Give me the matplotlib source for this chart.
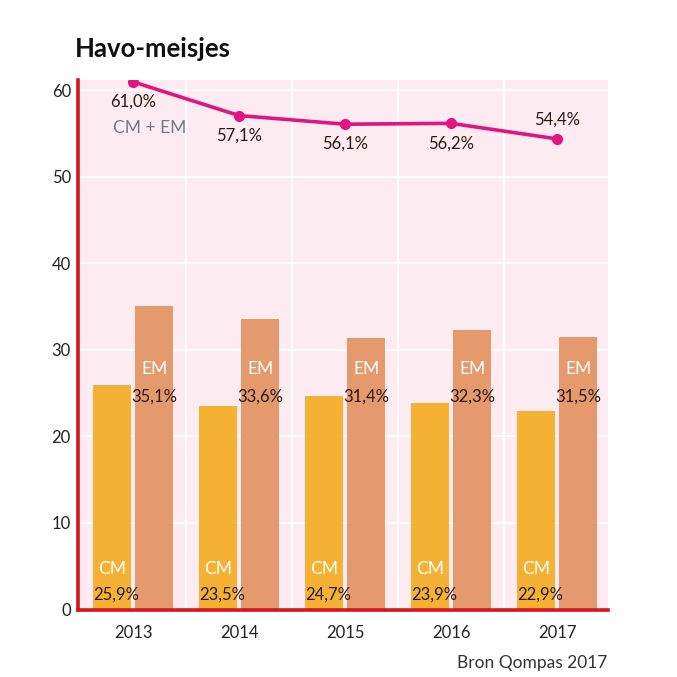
import matplotlib.pyplot as plt
import numpy as np

plt.rcParams['font.family'] = ['Lato', 'DejaVu Sans']

# data
years = ['2013', '2014', '2015', '2016', '2017']
cm = [25.9, 23.5, 24.7, 23.9, 22.9]
em = [35.1, 33.6, 31.4, 32.3, 31.5]
total = [61.0, 57.1, 56.1, 56.2, 54.4]

pink_bg = '#fcebf1'
red = '#d8141e'
magenta = '#e0157f'
cm_col = '#f5b133'
em_col = '#e49a6c'

fig = plt.figure(figsize=(6.77, 6.77), dpi=100)
ax = fig.add_axes([0.115, 0.0997, 0.783, 0.782])
ax.set_facecolor(pink_bg)

x = np.arange(len(years))
w = 0.36
off = 0.2

ax.bar(x - off, cm, w, color=cm_col, zorder=2)
ax.bar(x + off, em, w, color=em_col, zorder=2)
ax.plot(x, total, color=magenta, lw=2.6, marker='o', ms=7, zorder=4)

# labels
for i in range(len(years)):
    ax.text(x[i] - off, 4.7, 'CM', color='white', ha='center', va='center', fontsize=12.5, zorder=5)
    ax.text(x[i] - off + 0.04, 1.7, f'{cm[i]:.1f}%'.replace('.', ','), color='#2a1a10',
            ha='center', va='center', fontsize=12, zorder=5)
    ax.text(x[i] + off, 27.8, 'EM', color='white', ha='center', va='center', fontsize=12.5, zorder=5)
    ax.text(x[i] + off, 24.6, f'{em[i]:.1f}%'.replace('.', ','), color='#2a1a10',
            ha='center', va='center', fontsize=12, zorder=5)
    lbl = f'{total[i]:.1f}%'.replace('.', ',')
    if i == len(years) - 1:
        ax.text(x[i], total[i] + 2.2, lbl, color='#2a1a10', ha='center', va='center', fontsize=12, zorder=5)
    else:
        ax.text(x[i], total[i] - 2.3, lbl, color='#2a1a10', ha='center', va='center', fontsize=12, zorder=5)
ax.text(x[0] + 0.16, 55.7, 'CM + EM', color='#6f7a86', ha='center', va='center', fontsize=12.5, zorder=5)

ax.set_xlim(-0.52, 4.48)
ax.set_ylim(0, 61.2)
ax.set_yticks(range(0, 61, 10))
ax.set_xticks(x)
ax.set_xticklabels(years)
ax.set_xticks(x[:-1] + 0.5, minor=True)
ax.tick_params(which='both', length=0, labelsize=12, colors='#222222')
ax.tick_params(axis='x', pad=11)
ax.tick_params(axis='y', pad=5)

ax.grid(axis='y', color='white', lw=1.2, zorder=1)
ax.grid(axis='x', which='minor', color='white', lw=1.2, zorder=1)
ax.set_axisbelow(True)

for s in ['top', 'right']:
    ax.spines[s].set_visible(False)
for s in ['left', 'bottom']:
    ax.spines[s].set_color(red)
    ax.spines[s].set_linewidth(2.6)
    ax.spines[s].set_zorder(6)

fig.text(0.111, 0.928, 'Havo-meisjes', fontsize=18.5, fontweight='bold', color='#111111', va='center')
fig.text(0.897, 0.021, 'Bron Qompas 2017', fontsize=12.5, color='#333333', ha='right', va='center')

fig.savefig('out.png', dpi=100, facecolor='white')
